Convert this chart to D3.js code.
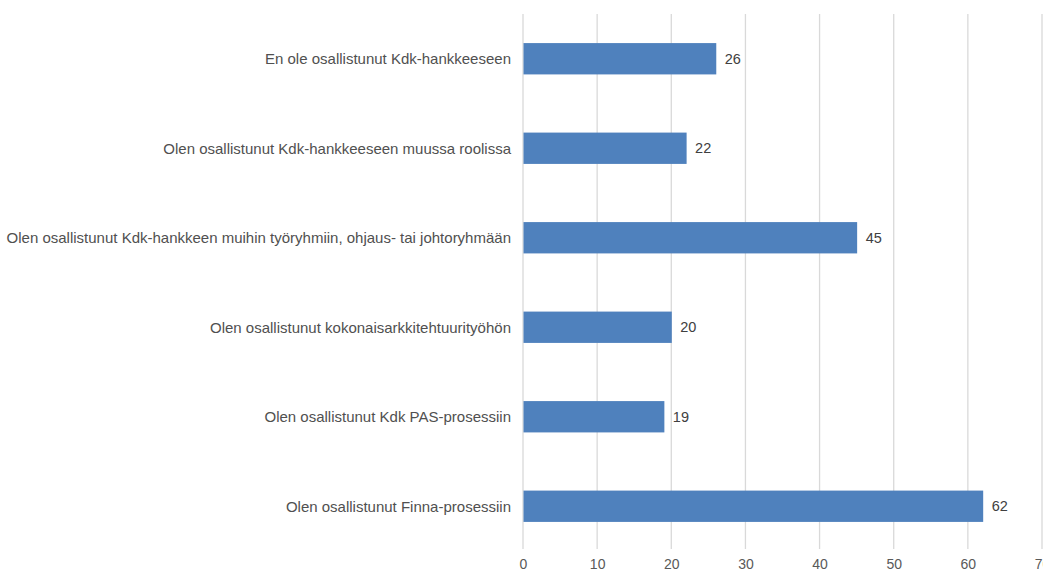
<!DOCTYPE html>
<html><head><meta charset="utf-8">
<script src="https://cdn.jsdelivr.net/npm/d3@7"></script>
<style>body{margin:0;background:#fff;} svg{display:block;}</style>
</head><body>
<svg id="chart" width="1043" height="572"></svg>
<script>
const categories = [
  "En ole osallistunut Kdk-hankkeeseen",
  "Olen osallistunut Kdk-hankkeeseen muussa roolissa",
  "Olen osallistunut Kdk-hankkeen muihin työryhmiin, ohjaus- tai johtoryhmään",
  "Olen osallistunut kokonaisarkkitehtuurityöhön",
  "Olen osallistunut Kdk PAS-prosessiin",
  "Olen osallistunut Finna-prosessiin"
];
const values = [26, 22, 45, 20, 19, 62];
const xTicks = [0, 10, 20, 30, 40, 50, 60, 70];

const svg = d3.select("#chart");
const margin = {left: 523, top: 14};
const x = d3.scaleLinear().domain([0, 70]).range([margin.left, 1042]);
const y = d3.scaleBand().domain(categories).range([margin.top, 551]).paddingInner(0.65).paddingOuter(0.325);
const font = "'Liberation Sans', Arial, sans-serif";

// gridlines
svg.append("g").selectAll("line").data(xTicks).join("line")
  .attr("x1", d => x(d)).attr("x2", d => x(d))
  .attr("y1", margin.top).attr("y2", 549)
  .attr("stroke", "#d9d9d9").attr("stroke-width", 1.3);

// bars
svg.append("g").selectAll("rect").data(values).join("rect")
  .attr("x", x(0) + 0.5)
  .attr("y", (d, i) => y(categories[i]))
  .attr("width", d => x(d) - x(0))
  .attr("height", y.bandwidth())
  .attr("fill", "#4f81bd");

// value labels
svg.append("g").selectAll("text").data(values).join("text")
  .attr("x", d => x(d) + 9)
  .attr("y", (d, i) => y(categories[i]) + y.bandwidth() / 2)
  .attr("dy", "0.36em")
  .attr("font-family", font).attr("font-size", 14.5)
  .attr("fill", "#404040")
  .text(d => d);

// category labels
svg.append("g").selectAll("text").data(categories).join("text")
  .attr("x", margin.left - 12)
  .attr("y", d => y(d) + y.bandwidth() / 2)
  .attr("dy", "0.36em")
  .attr("text-anchor", "end")
  .attr("font-family", font).attr("font-size", 15)
  .attr("fill", "#505050")
  .text(d => d);

// x axis tick labels
const xAxis = d3.axisBottom(x).tickValues(xTicks).tickSize(0).tickPadding(0);
const gx = svg.append("g").attr("transform", "translate(0,559)").call(xAxis);
gx.select(".domain").remove();
gx.selectAll("text").attr("font-family", font).attr("font-size", 14).attr("fill", "#595959").attr("dy", "0.71em");
</script>
</body></html>
